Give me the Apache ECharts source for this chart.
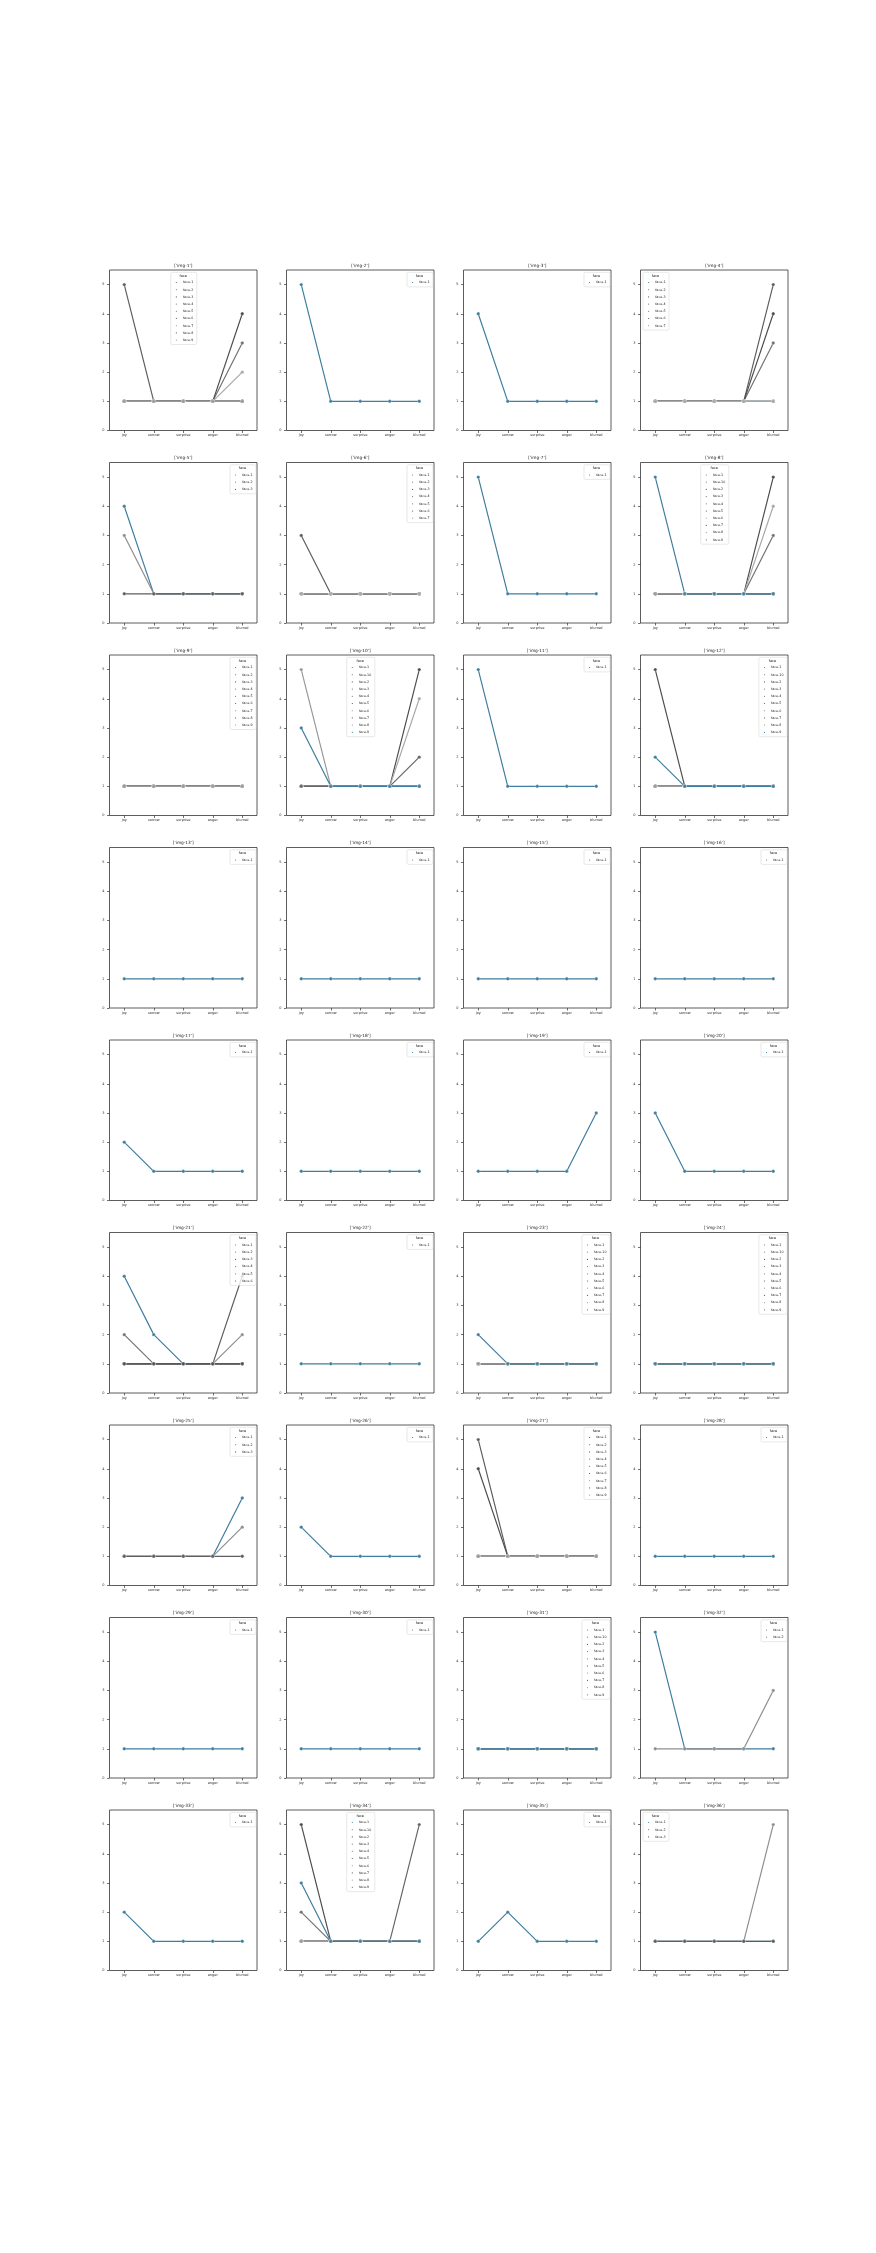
<!DOCTYPE html>
<html><head><meta charset="utf-8">
<script src="https://cdn.jsdelivr.net/npm/echarts@6/dist/echarts.min.js"></script>
<style>html,body{margin:0;padding:0;background:#fff}#c{width:876px;height:2253px}</style>
</head><body><div id="c"></div>
<script>
const categories = ['joy','sorrow','surprise','anger','blurred'];
const yTicks = [0,1,2,3,4,5];
const faces9 = ['face-1','face-2','face-3','face-4','face-5','face-6','face-7','face-8','face-9'];
const faces10 = ['face-1','face-10','face-2','face-3','face-4','face-5','face-6','face-7','face-8','face-9'];
const titles = ["['img-1']","['img-2']","['img-3']","['img-4']","['img-5']","['img-6']","['img-7']","['img-8']",
"['img-9']","['img-10']","['img-11']","['img-12']","['img-13']","['img-14']","['img-15']","['img-16']",
"['img-17']","['img-18']","['img-19']","['img-20']","['img-21']","['img-22']","['img-23']","['img-24']",
"['img-25']","['img-26']","['img-27']","['img-28']","['img-29']","['img-30']","['img-31']","['img-32']",
"['img-33']","['img-34']","['img-35']","['img-36']"];
const legendPos = ['uc','ur','ur','ul', 'ur','ur','ur','uc', 'ur','uc','ur','ur', 'ur','ur','ur','ur',
'ur','ur','ur','ur', 'ur','ur','ur','ur', 'ur','ur','ur','ur', 'ur','ur','ur','ur', 'ur','uc','ur','ul'];

// rows are faces in legend order, columns follow categories
const img01 = [[1,1,1,1,1],[1,1,1,1,1],[5,1,1,1,1],[1,1,1,1,3],[1,1,1,1,1],[1,1,1,1,4],[1,1,1,1,2],[1,1,1,1,1],[1,1,1,1,1]];
const img02 = [[5,1,1,1,1]];
const img03 = [[4,1,1,1,1]];
const img04 = [[1,1,1,1,1],[1,1,1,1,1],[1,1,1,1,5],[1,1,1,1,3],[1,1,1,1,1],[1,1,1,1,4],[1,1,1,1,1]];
const img05 = [[4,1,1,1,1],[3,1,1,1,1],[1,1,1,1,1]];
const img06 = [[1,1,1,1,1],[1,1,1,1,1],[3,1,1,1,1],[1,1,1,1,1],[1,1,1,1,1],[1,1,1,1,1],[1,1,1,1,1]];
const img07 = [[5,1,1,1,1]];
const img08 = [[1,1,1,1,1],[1,1,1,1,1],[1,1,1,1,1],[1,1,1,1,3],[1,1,1,1,1],[1,1,1,1,5],[1,1,1,1,4],[1,1,1,1,1],[1,1,1,1,1],[5,1,1,1,1]];
const img09 = [[1,1,1,1,1],[1,1,1,1,1],[1,1,1,1,1],[1,1,1,1,1],[1,1,1,1,1],[1,1,1,1,1],[1,1,1,1,1],[1,1,1,1,1],[1,1,1,1,1]];
const img10 = [[1,1,1,1,1],[1,1,1,1,1],[1,1,1,1,1],[1,1,1,1,1],[1,1,1,1,1],[1,1,1,1,5],[1,1,1,1,4],[1,1,1,1,2],[5,1,1,1,1],[3,1,1,1,1]];
const img11 = [[5,1,1,1,1]];
const img12 = [[1,1,1,1,1],[1,1,1,1,1],[1,1,1,1,1],[1,1,1,1,1],[1,1,1,1,1],[5,1,1,1,1],[1,1,1,1,1],[1,1,1,1,1],[1,1,1,1,1],[2,1,1,1,1]];
const img13 = [[1,1,1,1,1]];
const img14 = [[1,1,1,1,1]];
const img15 = [[1,1,1,1,1]];
const img16 = [[1,1,1,1,1]];
const img17 = [[2,1,1,1,1]];
const img18 = [[1,1,1,1,1]];
const img19 = [[1,1,1,1,3]];
const img20 = [[3,1,1,1,1]];
const img21 = [[4,2,1,1,1],[1,1,1,1,2],[1,1,1,1,4],[2,1,1,1,1],[1,1,1,1,1],[1,1,1,1,1]];
const img22 = [[1,1,1,1,1]];
const img23 = [[1,1,1,1,1],[1,1,1,1,1],[1,1,1,1,1],[1,1,1,1,1],[1,1,1,1,1],[1,1,1,1,1],[1,1,1,1,1],[1,1,1,1,1],[1,1,1,1,1],[2,1,1,1,1]];
const img24 = [[1,1,1,1,1],[1,1,1,1,1],[1,1,1,1,1],[1,1,1,1,1],[1,1,1,1,1],[1,1,1,1,1],[1,1,1,1,1],[1,1,1,1,1],[1,1,1,1,1],[1,1,1,1,1]];
const img25 = [[1,1,1,1,3],[1,1,1,1,2],[1,1,1,1,1]];
const img26 = [[2,1,1,1,1]];
const img27 = [[1,1,1,1,1],[1,1,1,1,1],[5,1,1,1,1],[1,1,1,1,1],[1,1,1,1,1],[4,1,1,1,1],[1,1,1,1,1],[1,1,1,1,1],[1,1,1,1,1]];
const img28 = [[1,1,1,1,1]];
const img29 = [[1,1,1,1,1]];
const img30 = [[1,1,1,1,1]];
const img31 = [[1,1,1,1,1],[1,1,1,1,1],[1,1,1,1,1],[1,1,1,1,1],[1,1,1,1,1],[1,1,1,1,1],[1,1,1,1,1],[1,1,1,1,1],[1,1,1,1,1],[1,1,1,1,1]];
const img32 = [[5,1,1,1,1],[1,1,1,1,3]];
const img33 = [[2,1,1,1,1]];
const img34 = [[1,1,1,1,1],[1,1,1,1,1],[1,1,1,1,1],[2,1,1,1,1],[1,1,1,1,1],[5,1,1,1,1],[1,1,1,1,1],[1,1,1,1,5],[1,1,1,1,1],[3,1,1,1,1]];
const img35 = [[1,2,1,1,1]];
const img36 = [[1,1,1,1,1],[1,1,1,1,5],[1,1,1,1,1]];
const images = [img01,img02,img03,img04,img05,img06,img07,img08,img09,img10,img11,img12,img13,img14,img15,img16,img17,img18,
img19,img20,img21,img22,img23,img24,img25,img26,img27,img28,img29,img30,img31,img32,img33,img34,img35,img36];

const teal = '#3f7e9e';
const grays = ['#5a5a5a','#8e8e8e','#5e5e5e','#737373','#808080','#4e4e4e','#a8a8a8','#666666','#999999'];
function colorFor(i, n) {
  if (i === 9) return teal;
  if (i === 0 && n !== 9) return teal;
  return grays[i];
}

const FONT = '"DejaVu Sans", sans-serif';
const W = 147.5, H = 160.5, X0 = 109.5, DX = 177, Y0 = 270, DY = 192.5;
const LFS = 3.3, itemW = 3.2, padL = 3, padR = 3.5, padT = 7.6, padB = 1.8;
const ctx = document.createElement('canvas').getContext('2d');
ctx.font = LFS + 'px ' + FONT;

const option = {animation:false, grid:[], xAxis:[], yAxis:[], series:[], legend:[], graphic:[]};

images.forEach((rows, k) => {
  const r = Math.floor(k / 4), c = k % 4;
  const left = X0 + DX * c, top = Y0 + DY * r;
  const n = rows.length;
  const names = n === 10 ? faces10 : faces9.slice(0, n);
  option.grid.push({left, top, width: W, height: H, show: true, borderColor: '#333', borderWidth: 0.8,
    backgroundColor: '#fff', containLabel: false, outerBoundsMode: 'none'});
  option.xAxis.push({type: 'category', gridIndex: k, data: categories, boundaryGap: true,
    axisLine: {show: false},
    axisTick: {show: true, alignWithLabel: true, length: 2.5, lineStyle: {color: '#333', width: 0.7}},
    axisLabel: {fontSize: 3.5, color: '#333', margin: 3, fontFamily: FONT},
    splitLine: {show: false}});
  option.yAxis.push({type: 'value', gridIndex: k, min: 0, max: 5.5, interval: 1,
    axisLine: {show: false},
    axisTick: {show: true, length: 2.5, customValues: yTicks, lineStyle: {color: '#333', width: 0.7}},
    axisLabel: {customValues: yTicks, fontSize: 3.5, color: '#333', margin: 5, fontFamily: FONT,
      formatter: v => (Number.isInteger(v) ? String(v) : '')},
    splitLine: {show: false}});
  const lnames = [];
  rows.forEach((row, i) => {
    const col = colorFor(i, n);
    const nm = 'img' + (k + 1) + '|' + names[i];
    lnames.push(nm);
    option.series.push({type: 'line', name: nm, xAxisIndex: k, yAxisIndex: k, data: row,
      symbol: 'circle', symbolSize: 3.4, showSymbol: true, silent: true,
      lineStyle: {width: 1.2, color: col}, itemStyle: {color: col, borderColor: '#fff', borderWidth: 0.25},
      emphasis: {disabled: true}});
  });
  let maxT = 0;
  names.forEach(s => { maxT = Math.max(maxT, ctx.measureText(s).width); });
  const lw = padL + itemW + 5 + maxT + padR;
  let lx;
  if (legendPos[k] === 'ur') lx = left + W - 2 - lw;
  else if (legendPos[k] === 'uc') lx = left + W / 2 - lw / 2;
  else lx = left + 2.5;
  const ly = top + 2.3;
  option.legend.push({orient: 'vertical', left: lx, top: ly, data: lnames, icon: 'circle',
    formatter: s => s.split('|')[1], itemWidth: itemW, itemHeight: itemW, itemGap: 2,
    padding: [padT, padR, padB, padL], borderColor: '#d0d0d0', borderWidth: 0.5, borderRadius: 1.5,
    backgroundColor: 'rgba(255,255,255,0.8)', selectedMode: false,
    textStyle: {fontSize: LFS, lineHeight: 3.6, color: '#222', fontFamily: FONT}});
  option.graphic.push({type: 'text', x: lx + lw / 2, y: ly + 3.4, z: 100,
    style: {text: 'face', fontSize: 3.5, fontFamily: FONT, fill: '#222', align: 'center', verticalAlign: 'middle'}});
  option.graphic.push({type: 'text', x: left + W / 2, y: top - 4.3,
    style: {text: titles[k], fontSize: 4.3, fontFamily: FONT, fill: '#222', align: 'center', verticalAlign: 'middle'}});
});

const chart = echarts.init(document.getElementById('c'), null, {renderer: 'canvas', devicePixelRatio: 1});
chart.setOption(option);
</script>
</body></html>
